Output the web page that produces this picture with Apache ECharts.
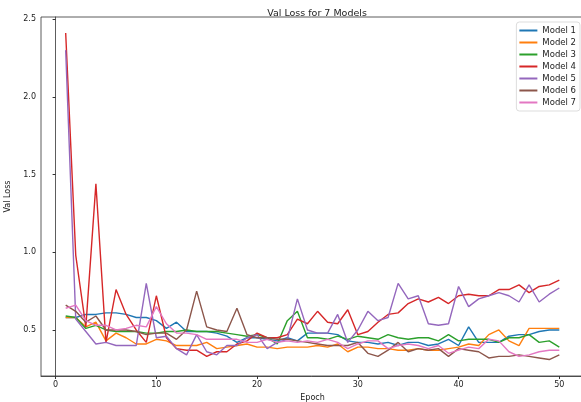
<!DOCTYPE html>
<html>
<head>
<meta charset="utf-8">
<script src="https://cdn.jsdelivr.net/npm/echarts@6/dist/echarts.min.js"></script>
<style>
  html, body { margin: 0; padding: 0; background: #fff; }
  #chart { width: 581px; height: 402px; }
</style>
</head>
<body>
<div id="chart"></div>
<script>
// epochs 1..50
const epochs = Array.from({ length: 50 }, (_, i) => i + 1);
const modelNames = ["Model 1", "Model 2", "Model 3", "Model 4", "Model 5", "Model 6", "Model 7"];
const colors = ["#1f77b4", "#ff7f0e", "#2ca02c", "#d62728", "#9467bd", "#8c564b", "#e377c2"];
const xTicks = [0, 10, 20, 30, 40, 50];
const yTicks = [0.5, 1.0, 1.5, 2.0, 2.5];

// 读图估计的数值
const model1 = [0.58, 0.58, 0.60, 0.60, 0.61, 0.61, 0.60, 0.58, 0.58, 0.56,
  0.51, 0.55, 0.49, 0.49, 0.49, 0.48, 0.46, 0.42, 0.45, 0.45,
  0.44, 0.43, 0.45, 0.43, 0.48, 0.48, 0.48, 0.47, 0.43, 0.42,
  0.42, 0.41, 0.42, 0.40, 0.42, 0.42, 0.40, 0.41, 0.44, 0.40,
  0.52, 0.42, 0.42, 0.42, 0.46, 0.47, 0.47, 0.49, 0.50, 0.50];
const model2 = [0.58, 0.58, 0.52, 0.55, 0.43, 0.48, 0.45, 0.41, 0.41, 0.44,
  0.43, 0.40, 0.40, 0.40, 0.42, 0.38, 0.39, 0.40, 0.41, 0.39,
  0.39, 0.38, 0.39, 0.39, 0.39, 0.40, 0.39, 0.41, 0.36, 0.39,
  0.39, 0.38, 0.38, 0.37, 0.37, 0.38, 0.37, 0.37, 0.38, 0.39,
  0.41, 0.40, 0.47, 0.50, 0.43, 0.40, 0.51, 0.51, 0.51, 0.51];
const model3 = [0.59, 0.58, 0.51, 0.53, 0.50, 0.49, 0.49, 0.49, 0.48, 0.48,
  0.49, 0.49, 0.50, 0.49, 0.49, 0.49, 0.48, 0.47, 0.46, 0.47,
  0.45, 0.41, 0.56, 0.62, 0.45, 0.45, 0.44, 0.46, 0.44, 0.46,
  0.45, 0.44, 0.47, 0.45, 0.44, 0.45, 0.45, 0.43, 0.47, 0.43,
  0.44, 0.44, 0.44, 0.42, 0.45, 0.45, 0.47, 0.42, 0.43, 0.39];
const model4 = [2.41, 0.98, 0.52, 1.44, 0.42, 0.76, 0.60, 0.50, 0.42, 0.72,
  0.45, 0.38, 0.37, 0.37, 0.33, 0.36, 0.36, 0.41, 0.43, 0.48,
  0.45, 0.45, 0.47, 0.57, 0.54, 0.62, 0.55, 0.54, 0.63, 0.47,
  0.49, 0.55, 0.60, 0.61, 0.67, 0.70, 0.68, 0.71, 0.67, 0.72,
  0.73, 0.72, 0.72, 0.76, 0.76, 0.79, 0.74, 0.78, 0.79, 0.82];
const model5 = [2.30, 0.57, 0.49, 0.41, 0.42, 0.40, 0.40, 0.40, 0.80, 0.45,
  0.46, 0.38, 0.34, 0.47, 0.36, 0.34, 0.40, 0.40, 0.45, 0.47,
  0.38, 0.42, 0.44, 0.70, 0.50, 0.48, 0.48, 0.60, 0.42, 0.50,
  0.62, 0.56, 0.58, 0.80, 0.70, 0.72, 0.54, 0.53, 0.54, 0.78,
  0.65, 0.70, 0.72, 0.74, 0.72, 0.68, 0.79, 0.68, 0.73, 0.77];
const model6 = [0.66, 0.62, 0.55, 0.59, 0.50, 0.50, 0.50, 0.49, 0.47, 0.48,
  0.48, 0.44, 0.50, 0.75, 0.52, 0.50, 0.49, 0.64, 0.47, 0.45,
  0.45, 0.44, 0.44, 0.43, 0.42, 0.41, 0.40, 0.40, 0.40, 0.42,
  0.35, 0.33, 0.37, 0.42, 0.36, 0.38, 0.37, 0.38, 0.33, 0.38,
  0.37, 0.36, 0.32, 0.33, 0.33, 0.34, 0.33, 0.32, 0.31, 0.34];
const model7 = [0.64, 0.66, 0.56, 0.53, 0.53, 0.50, 0.51, 0.53, 0.52, 0.65,
  0.54, 0.48, 0.48, 0.47, 0.44, 0.44, 0.44, 0.44, 0.42, 0.42,
  0.44, 0.42, 0.43, 0.42, 0.43, 0.42, 0.44, 0.42, 0.38, 0.41,
  0.43, 0.43, 0.38, 0.40, 0.41, 0.40, 0.38, 0.40, 0.35, 0.37,
  0.39, 0.38, 0.44, 0.43, 0.36, 0.33, 0.34, 0.36, 0.37, 0.37];
const allModels = [model1, model2, model3, model4, model5, model6, model7];

const chart = echarts.init(document.getElementById("chart"));
const font = "DejaVu Sans";

const option = {
  animation: false,
  backgroundColor: "#fff",
  textStyle: { fontFamily: font },
  title: {
    text: "Val Loss for 7 Models",
    left: 312,
    top: 4,
    textAlign: "center",
    textStyle: { fontFamily: font, fontSize: 9.5, fontWeight: "normal", color: "#222" }
  },
  grid: {
    left: 41, right: -3, top: 17, bottom: 26,
    outerBoundsMode: "none",
    containLabel: false,
    show: true, borderColor: "#333", borderWidth: 0.8
  },
  legend: {
    orient: "vertical",
    right: 1,
    top: 22,
    backgroundColor: "#fff",
    borderColor: "#ddd",
    borderWidth: 1,
    borderRadius: 3,
    padding: [4, 4, 4, 3],
    itemGap: 3,
    itemWidth: 18,
    itemHeight: 2,
    icon: "rect",
    textStyle: { fontFamily: font, fontSize: 8.5, color: "#222" },
    data: modelNames
  },
  xAxis: {
    type: "value",
    min: -1.45,
    max: 52.45,
    name: "Epoch",
    nameLocation: "middle",
    nameGap: 17,
    nameTextStyle: { fontFamily: font, fontSize: 8, color: "#222" },
    axisLine: { show: true, lineStyle: { color: "#333", width: 0.8 } },
    axisTick: { show: true, length: 3, customValues: xTicks, lineStyle: { color: "#333" } },
    axisLabel: { customValues: xTicks, fontSize: 8, color: "#222", margin: 5 },
    splitLine: { show: false }
  },
  yAxis: {
    type: "value",
    min: 0.204,
    max: 2.513,
    name: "Val Loss",
    nameLocation: "middle",
    nameGap: 27,
    nameTextStyle: { fontFamily: font, fontSize: 8, color: "#222" },
    axisLine: { show: true, lineStyle: { color: "#333", width: 0.8 } },
    axisTick: { show: true, length: 3, customValues: yTicks, lineStyle: { color: "#333" } },
    axisLabel: {
      customValues: yTicks, fontSize: 8, color: "#222", margin: 5,
      formatter: (v) => v.toFixed(1)
    },
    splitLine: { show: false }
  },
  series: allModels.map((vals, i) => ({
    name: modelNames[i],
    type: "line",
    data: epochs.map((e, j) => [e, vals[j]]),
    showSymbol: false,
    symbol: "none",
    color: colors[i],
    lineStyle: { width: 1.4, color: colors[i] }
  }))
};
chart.setOption(option);
</script>
</body>
</html>
